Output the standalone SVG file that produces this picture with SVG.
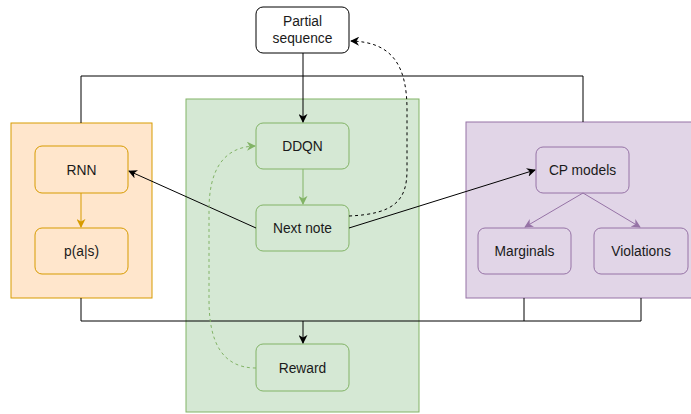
<svg xmlns="http://www.w3.org/2000/svg" width="691" height="414" viewBox="0 0 691 414">
<defs>
<style>
text{font-family:"Liberation Sans",Arial,sans-serif;font-size:13.8px;fill:#1a1a1a;text-anchor:middle;dominant-baseline:central}
.cg{fill:#d5e8d4;stroke:#82b366;stroke-width:1}
.co{fill:#ffe6cc;stroke:#d79b00;stroke-width:1}
.cp{fill:#e1d5e7;stroke:#9673a6;stroke-width:1}
.ng{fill:none;stroke:#82b366;stroke-width:1}
.no{fill:none;stroke:#d79b00;stroke-width:1}
.np{fill:none;stroke:#9673a6;stroke-width:1}
.nw{fill:#fff;stroke:#000;stroke-width:1}
.e{fill:none;stroke:#000;stroke-width:1}
</style>
<marker id="ak" viewBox="0 0 10 10" refX="9" refY="5" markerWidth="9" markerHeight="9" markerUnits="userSpaceOnUse" orient="auto"><path d="M0,0 L10,5 L0,10 L3,5 Z" fill="#000"/></marker>
<marker id="ag" viewBox="0 0 10 10" refX="9" refY="5" markerWidth="9" markerHeight="9" markerUnits="userSpaceOnUse" orient="auto"><path d="M0,0 L10,5 L0,10 L3,5 Z" fill="#82b366"/></marker>
<marker id="ao" viewBox="0 0 10 10" refX="9" refY="5" markerWidth="9" markerHeight="9" markerUnits="userSpaceOnUse" orient="auto"><path d="M0,0 L10,5 L0,10 L3,5 Z" fill="#d79b00"/></marker>
<marker id="ap" viewBox="0 0 10 10" refX="9" refY="5" markerWidth="9" markerHeight="9" markerUnits="userSpaceOnUse" orient="auto"><path d="M0,0 L10,5 L0,10 L3,5 Z" fill="#9673a6"/></marker>
</defs>
<rect width="691" height="414" fill="#fff"/>
<g id="rl-container"><rect class="cg" x="186" y="99" width="233" height="313"/></g>
<g id="rnn-container"><rect class="co" x="11" y="123" width="141" height="175"/></g>
<g id="cp-container"><rect class="cp" x="466" y="122" width="240" height="176"/></g>
<g id="partial"><rect class="nw" x="256" y="7" width="93" height="46" rx="7"/><text x="302.5" y="21.5">Partial</text><text x="302.5" y="38.5">sequence</text></g>
<g id="ddqn"><rect class="ng" x="256" y="123" width="93" height="46" rx="7"/><text x="302.5" y="146">DDQN</text></g>
<g id="nextnote"><rect class="ng" x="256" y="205" width="93" height="46" rx="7"/><text x="302.5" y="228">Next note</text></g>
<g id="reward"><rect class="ng" x="256" y="344" width="93" height="47" rx="7"/><text x="302.5" y="368">Reward</text></g>
<g id="rnn"><rect class="no" x="35" y="146" width="93" height="47" rx="7"/><text x="81.5" y="170">RNN</text></g>
<g id="pas"><rect class="no" x="35" y="228" width="93" height="46" rx="7"/><text x="81.5" y="251">p(a|s)</text></g>
<g id="cpmodels"><rect class="np" x="536" y="147" width="93" height="46" rx="7"/><text x="582.5" y="170">CP models</text></g>
<g id="marginals"><rect class="np" x="478" y="228" width="93" height="46" rx="7"/><text x="524.5" y="251">Marginals</text></g>
<g id="violations"><rect class="np" x="594" y="228" width="94" height="46" rx="7"/><text x="641" y="251">Violations</text></g>
<g id="connectors">
<path class="e" d="M81,123 L81,76 L583,76 L583,122"/>
<path class="e" d="M81,298 L81,321 L641,321 L641,298"/>
<path class="e" d="M524,298 L524,321"/>
<path class="e" d="M303,53 L303,122" marker-end="url(#ak)"/>
<path d="M303,169 L303,204" fill="none" stroke="#82b366" marker-end="url(#ag)"/>
<path d="M81,193 L81,227" fill="none" stroke="#d79b00" marker-end="url(#ao)"/>
<path class="e" d="M303,321 L303,343" marker-end="url(#ak)"/>
<path class="e" d="M256,228 L129,171" marker-end="url(#ak)"/>
<path class="e" d="M349,228 L535,170" marker-end="url(#ak)"/>
<path d="M583,193 L525,227" fill="none" stroke="#9673a6" marker-end="url(#ap)"/>
<path d="M583,193 L640,227" fill="none" stroke="#9673a6" marker-end="url(#ap)"/>
<path class="e" stroke-dasharray="3,3" d="M349,216 C395,214 407,200 407,170 L407,110 C407,65 392,42 351,41" marker-end="url(#ak)"/>
<path fill="none" stroke="#82b366" stroke-dasharray="3,3" d="M256,368 C222,368 209,342 209,300 L209,210 C209,172 222,147 255,146" marker-end="url(#ag)"/>
</g>
</svg>
